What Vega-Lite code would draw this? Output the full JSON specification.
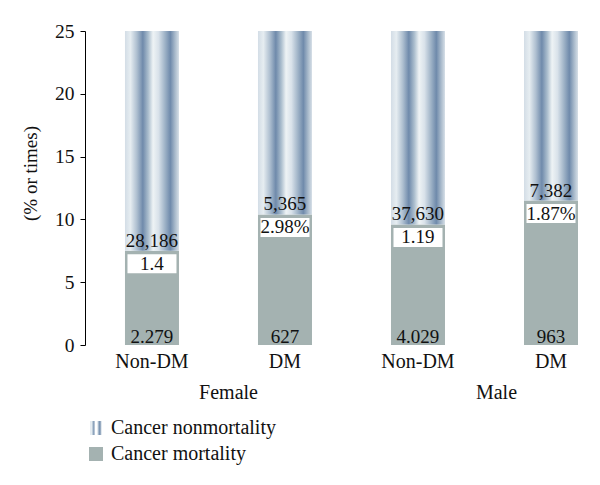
{
  "$schema": "https://vega.github.io/schema/vega-lite/v6.json",
  "width": 515,
  "height": 314,
  "autosize": "none",
  "padding": {"left": 85, "top": 31, "right": 0, "bottom": 140},
  "background": "white",
  "config": {
    "view": {"stroke": null},
    "font": "Liberation Serif",
    "axis": {"labelFont": "Liberation Serif", "titleFont": "Liberation Serif", "labelColor": "#111", "titleColor": "#111"},
    "legend": {"labelFont": "Liberation Serif", "labelColor": "#111"},
    "text": {"font": "Liberation Serif", "color": "#111"}
  },
  "datasets": {
    "bars": [
      {"key": "F Non-DM", "sex": "Female", "group": "Non-DM", "mortality": 7.5, "nonmort": "28,186", "ratio": "1.4", "mort": "2.279"},
      {"key": "F DM", "sex": "Female", "group": "DM", "mortality": 10.4, "nonmort": "5,365", "ratio": "2.98%", "mort": "627"},
      {"key": "M Non-DM", "sex": "Male", "group": "Non-DM", "mortality": 9.6, "nonmort": "37,630", "ratio": "1.19", "mort": "4.029"},
      {"key": "M DM", "sex": "Male", "group": "DM", "mortality": 11.5, "nonmort": "7,382", "ratio": "1.87%", "mort": "963"}
    ],
    "sexes": [{"sex": "Female"}, {"sex": "Male"}]
  },
  "layer": [
    {
      "data": {"name": "bars"},
      "encoding": {
        "x": {
          "field": "key", "type": "nominal",
          "scale": {"domain": ["F Non-DM", "F DM", "M Non-DM", "M DM"], "paddingInner": 0.594, "paddingOuter": 0.233, "align": 0.645},
          "axis": {"title": null, "labelExpr": "slice(datum.value, indexof(datum.value, ' ') + 1)", "domain": false, "ticks": false, "tickSize": 0, "labelPadding": 6, "labelFontSize": 20, "labelAngle": 0}
        }
      },
      "layer": [
        {
          "mark": {"type": "bar", "strokeWidth": 0},
          "encoding": {
            "y": {
              "field": "mortality", "type": "quantitative",
              "scale": {"domain": [0, 25], "nice": false},
              "axis": {"title": "(% or times)", "values": [0, 5, 10, 15, 20, 25], "grid": false, "domain": true, "domainColor": "#000", "tickColor": "#000", "tickSize": 5, "labelPadding": 6, "labelFontSize": 19.5, "titleFontSize": 19, "titleFontWeight": "normal", "titlePadding": 14, "titleY": 142}
            },
            "color": {
              "datum": "Cancer mortality", "type": "nominal",
              "scale": {"domain": ["Cancer mortality"], "range": ["#a4b2b1"]},
              "legend": {
                "title": null, "orient": "none", "legendX": 1, "legendY": 413, "direction": "vertical",
                "symbolType": "square", "symbolSize": 196, "symbolStrokeWidth": 0, "symbolOpacity": 1,
                "labelFontSize": 20, "labelOffset": 5, "padding": 0, "labelLimit": 400
              }
            }
          }
        },
        {
          "mark": {"type": "bar", "strokeWidth": 0, "fill": {"gradient": "linear", "x1": 0, "y1": 0, "x2": 1, "y2": 0, "stops": [
            {"offset": 0, "color": "#d3dde6"}, {"offset": 0.1, "color": "#e6edf1"}, {"offset": 0.22, "color": "#aebfd0"},
            {"offset": 0.33, "color": "#6f8aab"}, {"offset": 0.43, "color": "#aabdcd"}, {"offset": 0.52, "color": "#eef3f5"},
            {"offset": 0.62, "color": "#d9e2ea"}, {"offset": 0.74, "color": "#9fb3c7"}, {"offset": 0.84, "color": "#6f8aab"},
            {"offset": 0.93, "color": "#aabbcc"}, {"offset": 1, "color": "#d6dfe7"}]}},
          "encoding": {
            "y": {"field": "mortality", "type": "quantitative"},
            "y2": {"datum": 25},
            "opacity": {
              "datum": "Cancer nonmortality", "type": "nominal",
              "scale": {"domain": ["Cancer nonmortality"], "range": [1, 1]},
              "legend": {
                "title": null, "orient": "none", "legendX": 1, "legendY": 387, "direction": "vertical",
                "symbolType": "M-0.8,-1H-0.2V1H-0.8Z M0.2,-1H0.8V1H0.2Z", "symbolSize": 196, "symbolStrokeWidth": 0,
                "symbolFillColor": "#8aa0ba", "symbolOpacity": 1,
                "labelFontSize": 20, "labelOffset": 5, "padding": 0, "labelLimit": 400
              }
            }
          }
        },
        {
          "mark": {"type": "bar", "color": "white", "width": 49, "yOffset": 3.5, "y2Offset": 22.5, "strokeWidth": 0},
          "encoding": {
            "y": {"field": "mortality", "type": "quantitative"},
            "y2": {"field": "mortality"}
          }
        },
        {
          "mark": {"type": "text", "baseline": "middle", "dy": 13, "fontSize": 19},
          "encoding": {
            "y": {"field": "mortality", "type": "quantitative"},
            "text": {"field": "ratio"}
          }
        },
        {
          "mark": {"type": "text", "baseline": "alphabetic", "dy": -4, "fontSize": 19},
          "encoding": {
            "y": {"field": "mortality", "type": "quantitative"},
            "text": {"field": "nonmort"}
          }
        },
        {
          "mark": {"type": "text", "baseline": "alphabetic", "dy": -2, "fontSize": 19},
          "encoding": {
            "y": {"datum": 0, "type": "quantitative"},
            "text": {"field": "mort"}
          }
        }
      ]
    },
    {
      "data": {"name": "sexes"},
      "mark": {"type": "text", "text": ""},
      "encoding": {
        "x": {
          "field": "sex", "type": "nominal",
          "scale": {"type": "point", "domain": ["Female", "Male"], "padding": 0.461, "align": 0.579},
          "axis": {"title": null, "orient": "bottom", "domain": false, "ticks": false, "tickSize": 0, "labelPadding": 37, "labelFontSize": 20, "labelAngle": 0}
        }
      }
    }
  ],
  "resolve": {"scale": {"x": "independent"}, "axis": {"x": "independent"}}
}
